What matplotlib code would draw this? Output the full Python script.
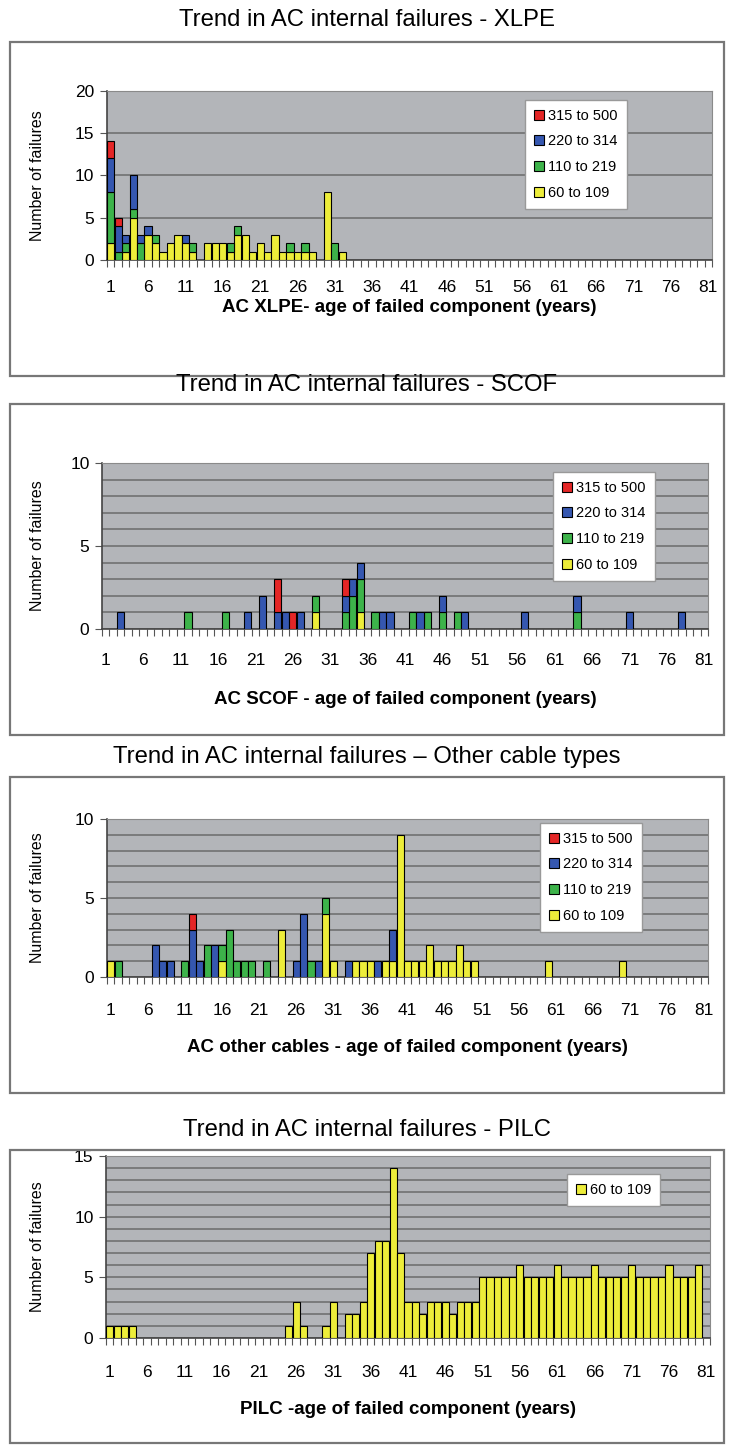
import numpy as np
import matplotlib
matplotlib.use("Agg")
import matplotlib.pyplot as plt
from matplotlib.patches import Rectangle, Patch
from matplotlib.ticker import FixedLocator, MultipleLocator

plt.rcParams['font.family'] = ['Liberation Sans', 'DejaVu Sans']

# ---- data: (age, count) per voltage band -------------------------------
ages = np.arange(1, 82)
tick_ages = list(range(1, 82, 5))
bands = ['60 to 109', '110 to 219', '220 to 314', '315 to 500']

# XLPE
xlpe_y60_ages = [1, 3, 4, 6, 7, 8, 9, 10, 11, 12, 14, 15, 16, 17, 18, 19, 20, 21, 22, 23, 24, 25, 26, 27, 28, 30, 32]
xlpe_y60 = [2, 1, 5, 3, 2, 1, 2, 3, 2, 1, 2, 2, 2, 1, 3, 3, 1, 2, 1, 3, 1, 1, 1, 1, 1, 8, 1]
xlpe_g110_ages = [1, 2, 3, 4, 5, 7, 12, 17, 18, 25, 27, 31]
xlpe_g110 = [6, 1, 1, 1, 2, 1, 1, 1, 1, 1, 1, 2]
xlpe_b220_ages = [1, 2, 3, 4, 5, 6, 11]
xlpe_b220 = [4, 3, 1, 4, 1, 1, 1]
xlpe_r315_ages = [1, 2]
xlpe_r315 = [2, 1]

# SCOF
scof_y60_ages = [29, 35]
scof_y60 = [1, 1]
scof_g110_ages = [12, 17, 29, 33, 34, 35, 37, 42, 44, 46, 48, 64]
scof_g110 = [1, 1, 1, 1, 2, 2, 1, 1, 1, 1, 1, 1]
scof_b220_ages = [3, 20, 22, 24, 25, 27, 33, 34, 35, 38, 39, 43, 46, 49, 57, 64, 71, 78]
scof_b220 = [1, 1, 2, 1, 1, 1, 1, 1, 1, 1, 1, 1, 1, 1, 1, 1, 1, 1]
scof_r315_ages = [24, 26, 33]
scof_r315 = [2, 1, 1]

# Other cable types
other_y60_ages = [1, 16, 24, 30, 31, 34, 35, 36, 38, 39, 40, 41, 42, 43, 44, 45, 46, 47, 48, 49, 50, 60, 70]
other_y60 = [1, 1, 3, 4, 1, 1, 1, 1, 1, 1, 9, 1, 1, 1, 2, 1, 1, 1, 2, 1, 1, 1, 1]
other_g110_ages = [2, 11, 14, 16, 17, 18, 19, 20, 22, 28, 30]
other_g110 = [1, 1, 2, 1, 3, 1, 1, 1, 1, 1, 1]
other_b220_ages = [7, 8, 9, 12, 13, 15, 26, 27, 29, 33, 37, 39]
other_b220 = [2, 1, 1, 3, 1, 2, 1, 4, 1, 1, 1, 2]
other_r315_ages = [12]
other_r315 = [1]

# PILC (ages 1..81)
pilc_y60 = [1, 1, 1, 1, 0, 0, 0, 0, 0, 0,
            0, 0, 0, 0, 0, 0, 0, 0, 0, 0,
            0, 0, 0, 0, 1, 3, 1, 0, 0, 1,
            3, 0, 2, 2, 3, 7, 8, 8, 14, 7,
            3, 3, 2, 3, 3, 3, 2, 3, 3, 3,
            5, 5, 5, 5, 5, 6, 5, 5, 5, 5,
            6, 5, 5, 5, 5, 6, 5, 5, 5, 5,
            6, 5, 5, 5, 5, 6, 5, 5, 5, 6,
            0]

colors = ['#EDED3A', '#3DB34A', '#3557B0', '#E42626']
W, H = 734, 1445


def full(a, v):
    out = np.zeros(len(ages))
    out[np.array(a) - 1] = v
    return out


panels = [
    dict(title='Trend in AC internal failures - XLPE', ty=20, box=(10, 42, 724, 376),
         ax=(107, 90.7, 712, 260), ymax=20, grid=5,
         xlabel='AC XLPE- age of failed component (years)', tl=287, xl=307,
         series=[full(xlpe_y60_ages, xlpe_y60), full(xlpe_g110_ages, xlpe_g110),
                 full(xlpe_b220_ages, xlpe_b220), full(xlpe_r315_ages, xlpe_r315)],
         leg=(525, 100)),
    dict(title='Trend in AC internal failures - SCOF', ty=385, box=(10, 404, 724, 735),
         ax=(102, 463, 708, 629), ymax=10, grid=1,
         xlabel='AC SCOF - age of failed component (years)', tl=660, xl=700,
         series=[full(scof_y60_ages, scof_y60), full(scof_g110_ages, scof_g110),
                 full(scof_b220_ages, scof_b220), full(scof_r315_ages, scof_r315)],
         leg=(553, 472)),
    dict(title='Trend in AC internal failures \u2013 Other cable types', ty=757, box=(10, 777, 724, 1093),
         ax=(107, 819, 708, 977), ymax=10, grid=1,
         xlabel='AC other cables - age of failed component (years)', tl=1010, xl=1047,
         series=[full(other_y60_ages, other_y60), full(other_g110_ages, other_g110),
                 full(other_b220_ages, other_b220), full(other_r315_ages, other_r315)],
         leg=(540, 823)),
    dict(title='Trend in AC internal failures - PILC', ty=1130, box=(10, 1150, 724, 1443),
         ax=(106, 1156, 710, 1338), ymax=15, grid=1,
         xlabel='PILC -age of failed component (years)', tl=1372, xl=1410,
         series=[np.array(pilc_y60, dtype=float)],
         leg=(567, 1174)),
]

fig = plt.figure(figsize=(W / 100, H / 100), dpi=100)

for p in panels:
    x0, y0, x1, y1 = p['box']
    fig.patches.append(Rectangle((x0 / W, 1 - y1 / H), (x1 - x0) / W, (y1 - y0) / H,
                                 transform=fig.transFigure, fill=False,
                                 edgecolor='#777777', lw=1.6))
    fig.text(0.5, 1 - p['ty'] / H, p['title'], ha='center', va='center', fontsize=17.2)

    l, t, r, b = p['ax']
    ax = fig.add_axes([l / W, 1 - b / H, (r - l) / W, (b - t) / H])
    ax.set_facecolor('#B3B5B9')

    bottom = np.zeros(len(ages))
    for vals, c in zip(p['series'], colors):
        m = vals > 0
        ax.bar(ages[m], vals[m], bottom=bottom[m], width=0.96, color=c,
               edgecolor='black', linewidth=0.8, zorder=3)
        bottom += vals

    ax.set_xlim(0.5, 81.5)
    ax.set_ylim(0, p['ymax'])
    ax.set_yticks(np.arange(0, p['ymax'] + 1, 5))
    ax.yaxis.set_minor_locator(MultipleLocator(p['grid']))
    ax.grid(axis='y', which='both', color='#6B6B6B', lw=1.1, zorder=1)
    ax.tick_params(axis='y', which='major', length=5, color='#555555', labelsize=12.5, pad=4)
    ax.tick_params(axis='y', which='minor', length=0)

    ax.set_xticks(tick_ages)
    ax.xaxis.set_minor_locator(FixedLocator(np.arange(0.5, 82, 1)))
    tl_pad = (p['tl'] - b) * 0.72 - 5
    ax.tick_params(axis='x', which='major', length=0, labelsize=12.5, pad=tl_pad)
    ax.tick_params(axis='x', which='minor', length=5, width=0.8, color='#555555')

    for s in ['top', 'right']:
        ax.spines[s].set_color('#8A8A8A')
    for s in ['left', 'bottom']:
        ax.spines[s].set_color('#444444')
        ax.spines[s].set_linewidth(1.2)

    ax.set_ylabel('Number of failures', fontsize=11.5)
    ax.yaxis.set_label_coords(-(l - 45) / (r - l), 0.5)
    ax.set_xlabel(p['xlabel'], fontsize=13.5, fontweight='bold')
    ax.xaxis.set_label_coords(0.5, -(p['xl'] - b) / (b - t))
    ax.xaxis.label.set_va('center')

    n = len(p['series'])
    handles = [Patch(facecolor=colors[i], edgecolor='black', lw=0.8, label=bands[i])
               for i in range(n)][::-1]
    lx, ly = p['leg']
    ax.legend(handles=handles, loc='upper left',
              bbox_to_anchor=((lx - l) / (r - l), (b - ly) / (b - t)),
              fontsize=10.5, frameon=True, fancybox=False, edgecolor='#999999',
              framealpha=1, handlelength=0.7, handleheight=0.7, handletextpad=0.3,
              labelspacing=0.8, borderpad=0.6, borderaxespad=0)

fig.savefig('out.png', dpi=100)
